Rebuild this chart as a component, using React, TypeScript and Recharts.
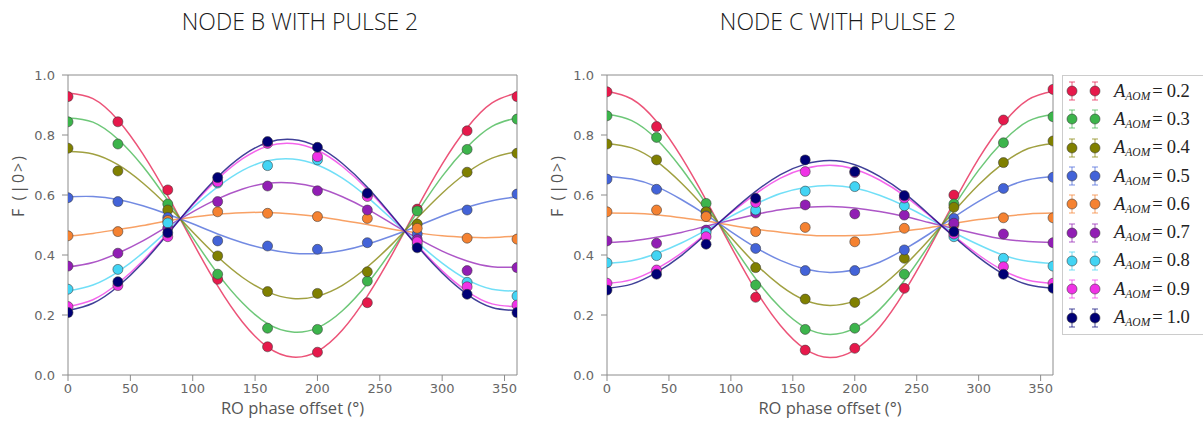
import React from "react";
import { ComposedChart, Customized, Line, Scatter, XAxis, YAxis } from "recharts";

// RO phase offsets (deg): fit curves are sampled every 20, measurements every 40
const curveX = [0, 20, 40, 60, 80, 100, 120, 140, 160, 180, 200, 220, 240, 260, 280, 300, 320, 340, 360];
const pointX = [0, 40, 80, 120, 160, 200, 240, 280, 320, 360];

const amplitudes = ["0.2", "0.3", "0.4", "0.5", "0.6", "0.7", "0.8", "0.9", "1.0"];
const colors = ["#e6194b", "#3cb44b", "#808000", "#4363d8", "#f58231", "#911eb4", "#42d4f4", "#f032e6", "#000075"];

const xTicks = [0, 50, 100, 150, 200, 250, 300, 350];
const yTicks = [0, 0.2, 0.4, 0.6, 0.8, 1.0];

// node B — fitted curves, one row per A_AOM (0.2 … 1.0)
const nodeBFit = [
  [0.94, 0.921, 0.85, 0.737, 0.597, 0.443, 0.297, 0.176, 0.093, 0.06, 0.079, 0.15, 0.263, 0.403, 0.557, 0.703, 0.824, 0.907, 0.94],
  [0.857, 0.843, 0.786, 0.696, 0.582, 0.458, 0.338, 0.24, 0.171, 0.143, 0.157, 0.214, 0.304, 0.418, 0.542, 0.662, 0.76, 0.829, 0.857],
  [0.745, 0.737, 0.701, 0.64, 0.563, 0.477, 0.394, 0.325, 0.277, 0.255, 0.263, 0.299, 0.36, 0.437, 0.523, 0.606, 0.675, 0.723, 0.745],
  [0.594, 0.595, 0.585, 0.564, 0.536, 0.504, 0.47, 0.441, 0.419, 0.406, 0.405, 0.415, 0.436, 0.464, 0.496, 0.53, 0.559, 0.581, 0.594],
  [0.463, 0.472, 0.485, 0.498, 0.514, 0.526, 0.536, 0.541, 0.542, 0.537, 0.528, 0.515, 0.502, 0.486, 0.474, 0.464, 0.459, 0.458, 0.463],
  [0.36, 0.375, 0.406, 0.447, 0.496, 0.544, 0.587, 0.62, 0.639, 0.64, 0.625, 0.594, 0.553, 0.504, 0.456, 0.413, 0.38, 0.361, 0.36],
  [0.28, 0.3, 0.344, 0.407, 0.482, 0.558, 0.627, 0.682, 0.714, 0.72, 0.7, 0.656, 0.593, 0.518, 0.442, 0.373, 0.318, 0.286, 0.28],
  [0.228, 0.251, 0.305, 0.381, 0.473, 0.567, 0.653, 0.721, 0.763, 0.772, 0.749, 0.695, 0.619, 0.527, 0.433, 0.347, 0.279, 0.237, 0.228],
  [0.215, 0.239, 0.295, 0.374, 0.47, 0.57, 0.66, 0.731, 0.775, 0.785, 0.761, 0.705, 0.626, 0.53, 0.43, 0.34, 0.269, 0.225, 0.215],
];

// node B — measured points
const nodeBPoints = [
  [0.928, 0.844, 0.617, 0.319, 0.094, 0.076, 0.241, 0.553, 0.814, 0.928],
  [0.844, 0.77, 0.57, 0.336, 0.156, 0.152, 0.313, 0.547, 0.752, 0.853],
  [0.756, 0.68, 0.55, 0.397, 0.278, 0.272, 0.344, 0.503, 0.676, 0.739],
  [0.591, 0.578, 0.525, 0.447, 0.43, 0.419, 0.441, 0.47, 0.55, 0.603],
  [0.464, 0.478, 0.515, 0.544, 0.539, 0.528, 0.522, 0.489, 0.456, 0.453],
  [0.363, 0.406, 0.49, 0.578, 0.63, 0.614, 0.55, 0.452, 0.348, 0.358],
  [0.286, 0.352, 0.507, 0.64, 0.698, 0.717, 0.6, 0.435, 0.309, 0.263],
  [0.228, 0.298, 0.461, 0.644, 0.772, 0.728, 0.595, 0.444, 0.294, 0.233],
  [0.208, 0.311, 0.474, 0.658, 0.778, 0.759, 0.606, 0.424, 0.269, 0.208],
];

// node C — fitted curves
const nodeCFit = [
  [0.946, 0.92, 0.845, 0.727, 0.583, 0.429, 0.283, 0.165, 0.086, 0.058, 0.084, 0.159, 0.277, 0.421, 0.575, 0.721, 0.839, 0.918, 0.946],
  [0.869, 0.848, 0.786, 0.689, 0.57, 0.442, 0.321, 0.224, 0.158, 0.135, 0.156, 0.218, 0.315, 0.434, 0.562, 0.683, 0.78, 0.846, 0.869],
  [0.772, 0.757, 0.712, 0.64, 0.553, 0.459, 0.37, 0.298, 0.249, 0.232, 0.247, 0.292, 0.364, 0.451, 0.545, 0.634, 0.706, 0.755, 0.772],
  [0.662, 0.653, 0.628, 0.585, 0.534, 0.478, 0.425, 0.382, 0.353, 0.342, 0.351, 0.376, 0.419, 0.47, 0.526, 0.579, 0.622, 0.651, 0.662],
  [0.54, 0.539, 0.534, 0.524, 0.513, 0.499, 0.486, 0.476, 0.467, 0.464, 0.465, 0.47, 0.48, 0.491, 0.505, 0.518, 0.528, 0.537, 0.54],
  [0.442, 0.447, 0.459, 0.475, 0.496, 0.516, 0.535, 0.551, 0.559, 0.562, 0.557, 0.545, 0.529, 0.508, 0.488, 0.469, 0.453, 0.445, 0.442],
  [0.372, 0.381, 0.405, 0.44, 0.483, 0.529, 0.57, 0.605, 0.625, 0.632, 0.623, 0.599, 0.564, 0.521, 0.475, 0.434, 0.399, 0.379, 0.372],
  [0.305, 0.318, 0.354, 0.406, 0.472, 0.54, 0.604, 0.656, 0.688, 0.699, 0.686, 0.65, 0.598, 0.532, 0.464, 0.4, 0.348, 0.316, 0.305],
  [0.289, 0.303, 0.342, 0.398, 0.469, 0.543, 0.612, 0.668, 0.703, 0.715, 0.701, 0.662, 0.606, 0.535, 0.461, 0.392, 0.336, 0.301, 0.289],
];

// node C — measured points
const nodeCPoints = [
  [0.944, 0.828, 0.545, 0.259, 0.083, 0.089, 0.289, 0.6, 0.85, 0.952],
  [0.864, 0.792, 0.572, 0.3, 0.152, 0.156, 0.336, 0.57, 0.774, 0.861],
  [0.77, 0.717, 0.544, 0.358, 0.253, 0.242, 0.389, 0.559, 0.708, 0.78],
  [0.653, 0.619, 0.53, 0.422, 0.348, 0.348, 0.417, 0.522, 0.622, 0.659],
  [0.544, 0.55, 0.528, 0.478, 0.492, 0.444, 0.489, 0.5, 0.524, 0.524],
  [0.447, 0.439, 0.483, 0.54, 0.567, 0.537, 0.533, 0.506, 0.47, 0.441],
  [0.374, 0.398, 0.475, 0.55, 0.613, 0.628, 0.564, 0.461, 0.389, 0.363],
  [0.306, 0.35, 0.461, 0.575, 0.678, 0.675, 0.59, 0.47, 0.361, 0.306],
  [0.283, 0.336, 0.436, 0.589, 0.717, 0.678, 0.598, 0.478, 0.336, 0.289],
];

const AXIS = "#8c8c8c";
const TICK = { fontSize: 13, fill: "#666", fontFamily: "DejaVu Sans" };
const LABEL_FONT = "'Open Sans', sans-serif";
const CHART_W = 540;
const CHART_H = 429;
const Y_AXIS_W = 50;
const PLOT_TOP = 75;
const PLOT_H = 300;

function Panel({ id, fit, points, marginLeft, marginRight }: { id: string; fit: number[][]; points: number[][]; marginLeft: number; marginRight: number }) {
  const rows = curveX.map((x, i) => {
    const r: Record<string, number> = { x };
    fit.forEach((s, k) => (r[`s${k}`] = s[i]));
    return r;
  });
  // matplotlib clips markers to the axes box
  const plotLeft = marginLeft + Y_AXIS_W;
  const plotW = CHART_W - marginRight - 5 - plotLeft;
  const clipId = `dots-${id}`;
  const Dot = (props: any) => {
    const { cx, cy, fill } = props;
    if (cx == null || cy == null) return null;
    return (
      <circle cx={cx} cy={cy} r={5} fill={fill} stroke="#3a3a3a" strokeOpacity={0.7} strokeWidth={0.8} clipPath={`url(#${clipId})`} />
    );
  };
  return (
    <ComposedChart width={CHART_W} height={CHART_H} data={rows} margin={{ top: 70, right: marginRight, bottom: 9, left: marginLeft }}>
      <Customized
        component={() => (
          <defs>
            <clipPath id={clipId}>
              <rect x={plotLeft} y={PLOT_TOP} width={plotW} height={PLOT_H} />
            </clipPath>
          </defs>
        )}
      />
      <XAxis
        dataKey="x"
        type="number"
        domain={[0, 360]}
        ticks={xTicks}
        allowDataOverflow
        height={45}
        stroke={AXIS}
        tickSize={6}
        tickMargin={3}
        tick={TICK}
        label={{ value: "RO phase offset (°)", position: "insideBottom", offset: 6, fill: "#555", fontSize: 16.5, fontFamily: LABEL_FONT }}
      />
      <XAxis xAxisId="top" orientation="top" type="number" domain={[0, 360]} ticks={xTicks} height={5} stroke={AXIS} tickSize={6} tick={false} />
      <YAxis
        type="number"
        domain={[0, 1]}
        ticks={yTicks}
        allowDataOverflow
        width={Y_AXIS_W}
        stroke={AXIS}
        tickSize={6}
        tickMargin={7}
        tick={TICK}
        tickFormatter={(v: number) => v.toFixed(1)}
        label={{
          value: "F (|0>)",
          angle: -90,
          position: "insideLeft",
          offset: 0,
          fill: "#555",
          fontSize: 16,
          fontFamily: LABEL_FONT,
          letterSpacing: 2,
          dy: -8,
        }}
      />
      <YAxis yAxisId="right" orientation="right" type="number" domain={[0, 1]} ticks={yTicks} width={5} stroke={AXIS} tickSize={6} tick={false} />
      {fit.map((_, k) => (
        <Line
          key={`fit${k}`}
          dataKey={`s${k}`}
          type="natural"
          stroke={colors[k]}
          strokeOpacity={0.75}
          strokeWidth={1.5}
          dot={false}
          activeDot={false}
          isAnimationActive={false}
        />
      ))}
      {points.map((s, k) => (
        <Scatter
          key={`pts${k}`}
          data={pointX.map((x, i) => ({ x, y: s[i] }))}
          dataKey="y"
          fill={colors[k]}
          shape={Dot}
          isAnimationActive={false}
        />
      ))}
    </ComposedChart>
  );
}

function LegendBox() {
  return (
    <div
      style={{
        position: "absolute",
        left: 1062,
        top: 75,
        width: 150,
        height: 260,
        border: "1px solid #cccccc",
        background: "#fff",
        boxSizing: "border-box",
        paddingTop: 1,
      }}
    >
      {amplitudes.map((a, k) => (
        <div key={a} style={{ height: 28.3, display: "flex", alignItems: "center" }}>
          <svg width={48} height={24} style={{ flex: "none" }}>
            {[9, 32].map((cx) => (
              <g key={cx} stroke={colors[k]} strokeOpacity={0.6} strokeWidth={1.2}>
                <line x1={cx} x2={cx} y1={3} y2={21} />
                <line x1={cx - 3} x2={cx + 3} y1={3} y2={3} />
                <line x1={cx - 3} x2={cx + 3} y1={21} y2={21} />
                <circle cx={cx} cy={12} r={5} fill={colors[k]} stroke="#3a3a3a" strokeOpacity={0.7} strokeWidth={0.8} />
              </g>
            ))}
          </svg>
          <span style={{ fontFamily: "'Liberation Serif', serif", fontSize: 18.5, color: "#222", whiteSpace: "nowrap", marginLeft: 3 }}>
            <i>A</i>
            <sub style={{ fontSize: 11.5, fontStyle: "italic", verticalAlign: "-3px" }}>AOM</sub>
            <span style={{ margin: "0 4px 0 2px" }}>=</span>
            <span>{a}</span>
          </span>
        </div>
      ))}
    </div>
  );
}

const titleStyle: React.CSSProperties = {
  position: "absolute",
  top: 5,
  width: 400,
  textAlign: "center",
  fontFamily: LABEL_FONT,
  fontWeight: 300,
  fontSize: 23,
  color: "#1a1a1a",
};

export default function App() {
  return (
    <div style={{ position: "absolute", left: 0, top: 0, width: 1203, height: 429, background: "#fff", overflow: "hidden" }}>
      <div style={{ ...titleStyle, left: 100 }}>NODE B WITH PULSE 2</div>
      <div style={{ ...titleStyle, left: 638 }}>NODE C WITH PULSE 2</div>
      <div style={{ position: "absolute", left: 0, top: 0 }}>
        <Panel id="b" fit={nodeBFit} points={nodeBPoints} marginLeft={18} marginRight={18} />
      </div>
      <div style={{ position: "absolute", left: 540, top: 0 }}>
        <Panel id="c" fit={nodeCFit} points={nodeCPoints} marginLeft={17} marginRight={22} />
      </div>
      <LegendBox />
    </div>
  );
}
